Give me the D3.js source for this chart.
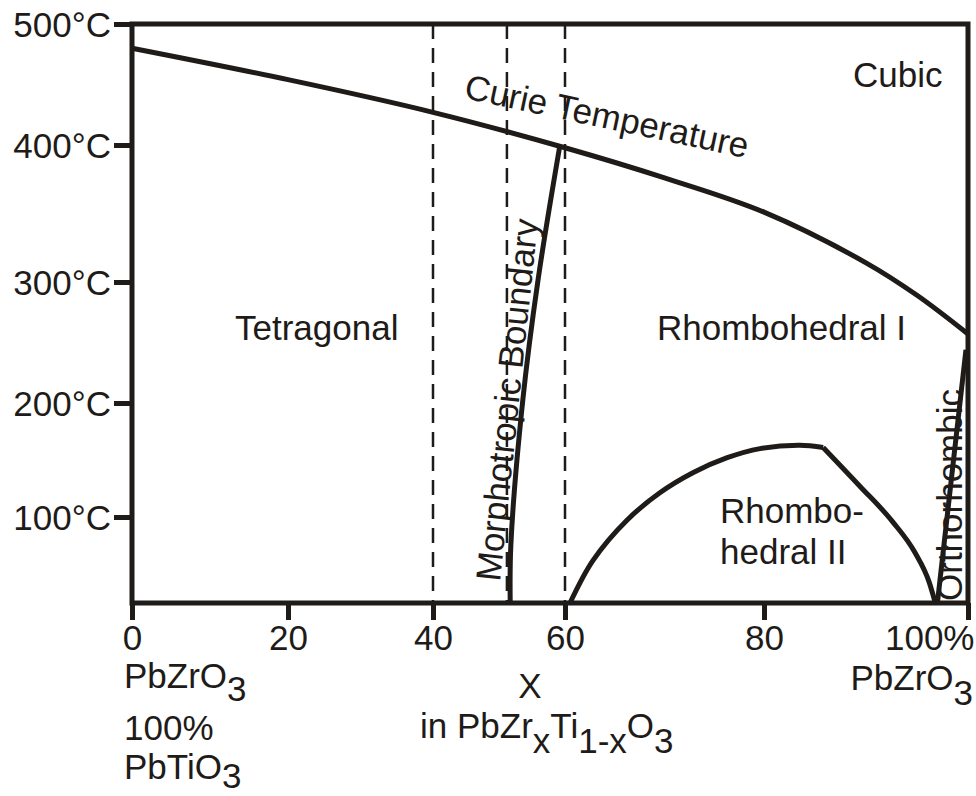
<!DOCTYPE html>
<html>
<head>
<meta charset="utf-8">
<script src="https://cdn.jsdelivr.net/npm/d3@7"></script>
<style>
  body { margin: 0; background: #fff; }
  text { font-family: "Liberation Sans", Arial, Helvetica, sans-serif; fill: #1e1b18; }
</style>
</head>
<body>
<div id="chart"></div>
<script>
const width = 976, height = 796;
const ink = "#1e1b18";
const fontSize = 35;

// x = Zr content in %, t = temperature in °C
const xTicks = [0, 20, 40, 60, 80, 100];
const xTickLabels = ["0", "20", "40", "60", "80", "100%"];
const tTicks = [100, 200, 300, 400, 500];
const tBottom = 25;
const dashedX = [40, 51.2, 60];

const curieX = [0, 20, 40, 60, 70, 80, 90, 95, 100];
const curieT = [480, 454, 427, 398, 376, 351, 314, 289, 257];

const morphX = [51.7, 51.8, 53.6, 55.9, 59.2];
const morphT = [25, 76, 202, 301, 399];

const rhombArcX = [60.5, 62.8, 66.2, 69.5, 72.9, 76.3, 79.6, 83.5, 85.8];
const rhombArcT = [25, 62, 97, 121, 139, 152, 160, 163, 161];

const rhombFallX = [85.8, 89.4, 92.6, 94.8, 96.2, 96.8];
const rhombFallT = [161, 127, 96, 69, 43, 25];

const orthoX = [97.0, 99.8];
const orthoT = [25, 244];

const svg = d3.select("#chart")
  .append("svg")
  .attr("width", width)
  .attr("height", height)
  .attr("viewBox", `0 0 ${width} ${height}`);

// hand drawn original: tick spacing is uneven, so piecewise scales
const x = d3.scaleLinear()
  .domain(xTicks)
  .range([132, 288, 433, 565, 764, 968]);

const y = d3.scaleLinear()
  .domain([tBottom, 100, 200, 300, 400, 500])
  .range([603, 517, 403, 282, 145, 24]);

// dashed composition lines
svg.append("g")
  .selectAll("line")
  .data(dashedX)
  .join("line")
  .attr("x1", d => x(d))
  .attr("x2", d => x(d))
  .attr("y1", y(500))
  .attr("y2", y(tBottom))
  .attr("stroke", ink)
  .attr("stroke-width", 2.5)
  .attr("stroke-dasharray", "15,9");

// phase boundaries
const zip = (xs, ts) => xs.map((d, i) => [d, ts[i]]);
const smooth = d3.line()
  .x(d => x(d[0]))
  .y(d => y(d[1]))
  .curve(d3.curveCatmullRom);
const mono = d3.line()
  .x(d => x(d[0]))
  .y(d => y(d[1]))
  .curve(d3.curveMonotoneX);

const boundaries = [
  { pts: zip(curieX, curieT), gen: smooth },
  { pts: zip(morphX, morphT), gen: smooth },
  { pts: zip(rhombArcX, rhombArcT), gen: smooth },
  { pts: zip(rhombFallX, rhombFallT), gen: mono },
  { pts: zip(orthoX, orthoT), gen: smooth }
];

svg.append("g")
  .selectAll("path")
  .data(boundaries)
  .join("path")
  .attr("d", d => d.gen(d.pts))
  .attr("fill", "none")
  .attr("stroke", ink)
  .attr("stroke-width", 5)
  .attr("stroke-linejoin", "round");

// frame
svg.append("rect")
  .attr("x", x(0))
  .attr("y", y(500))
  .attr("width", x(100) - x(0))
  .attr("height", y(tBottom) - y(500))
  .attr("fill", "none")
  .attr("stroke", ink)
  .attr("stroke-width", 5);

// axes
const yAxis = svg.append("g")
  .attr("transform", `translate(${x(0)},0)`)
  .call(d3.axisLeft(y)
    .tickValues(tTicks)
    .tickSize(18)
    .tickSizeOuter(0)
    .tickPadding(3)
    .tickFormat(d => d + "°C"));

const xAxis = svg.append("g")
  .attr("transform", `translate(0,${y(tBottom)})`)
  .call(d3.axisBottom(x)
    .tickValues(xTicks)
    .tickSize(17)
    .tickSizeOuter(0)
    .tickPadding(5)
    .tickFormat((d, i) => xTickLabels[i]));

[yAxis, xAxis].forEach(g => {
  g.select(".domain").remove();
  g.selectAll(".tick line").attr("stroke", ink).attr("stroke-width", 5);
  g.selectAll(".tick text")
    .attr("fill", ink)
    .attr("font-size", fontSize)
    .attr("font-family", "Liberation Sans, Arial, sans-serif");
});
yAxis.selectAll(".tick text").attr("dy", "0.36em");
xAxis.selectAll(".tick text")
  .filter(d => d === 100)
  .attr("text-anchor", "end")
  .attr("x", 6);

// text with shifted subscripts
const richText = (px, py, parts, anchor = "start") => {
  const t = svg.append("text")
    .attr("x", px)
    .attr("y", py)
    .attr("font-size", fontSize)
    .attr("text-anchor", anchor);
  let prev = 0;
  parts.forEach(([s, shift]) => {
    t.append("tspan").attr("dy", shift - prev).text(s);
    prev = shift;
  });
  return t;
};

richText(124, 688, [["PbZrO", 0], ["3", 13]]);
richText(124, 740, [["100%", 0]]);
richText(124, 779, [["PbTiO", 0], ["3", 9]]);
richText(973, 690, [["PbZrO", 0], ["3", 15]], "end");
richText(530, 698, [["X", 0]], "middle");
richText(420, 738, [["in PbZr", 0], ["x", 15], ["Ti", 0], ["1-x", 15], ["O", 0], ["3", 15]]);

// region labels
const label = (s, px, py, angle = 0) =>
  svg.append("text")
    .attr("transform", `translate(${px},${py}) rotate(${angle})`)
    .attr("font-size", fontSize)
    .text(s);

label("Cubic", 853, 87);
label("Tetragonal", 235, 340);
label("Rhombohedral I", 657, 340);
label("Rhombo-", 720, 523);
label("hedral II", 720, 564);
label("Curie Temperature", 463, 98, 12);
label("Morphotropic Boundary", 500, 582, -84);
label("Orthorhombic", 962, 601, -90);
</script>
</body>
</html>
